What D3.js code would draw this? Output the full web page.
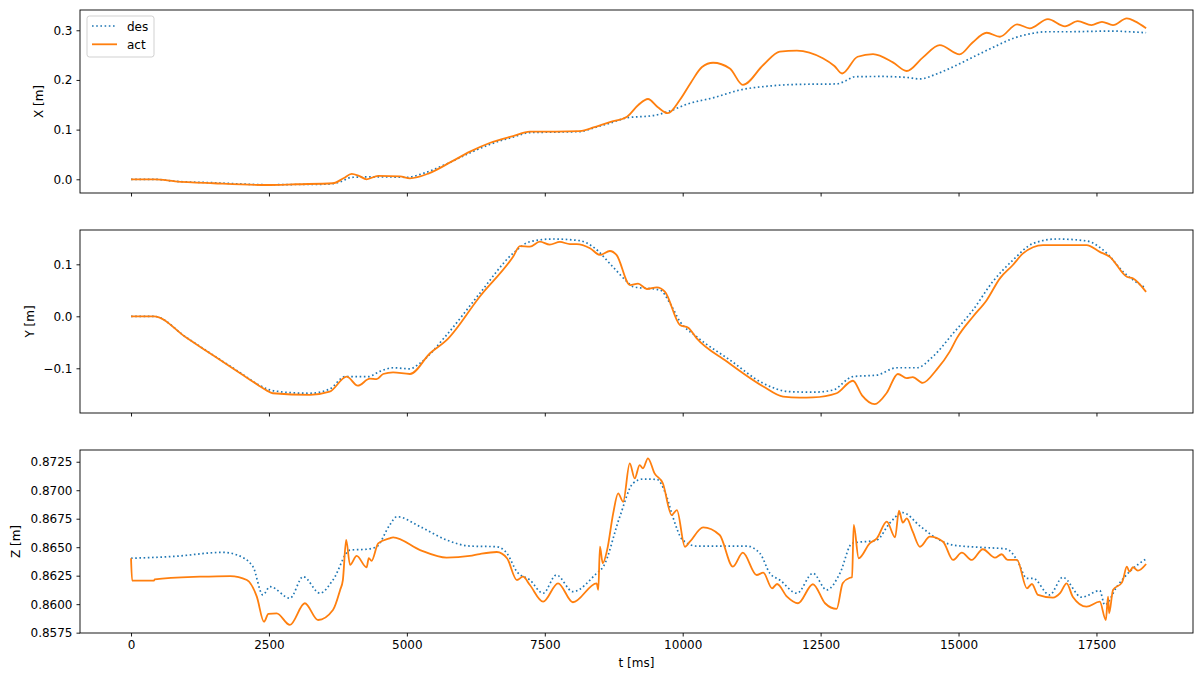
<!DOCTYPE html>
<html>
<head>
<meta charset="utf-8">
<script src="https://cdn.jsdelivr.net/npm/d3@7"></script>
<style>
  body { margin: 0; background: #fff; }
  text { font-family: "DejaVu Sans", sans-serif; fill: #000; }
</style>
</head>
<body>
<svg id="chart" width="1194" height="675"></svg>
<script>
// time ticks (ms)
var tTicks = [0, 2500, 5000, 7500, 10000, 12500, 15000, 17500];

// X position [m], pairs of [t, value]
var xDes = [[0,0],[430,0],[800,-0.004],[1500,-0.007],[2500,-0.011],[3000,-0.0105],[3500,-0.01],[3800,-0.005],[4000,0.004],[4500,0.005],[5000,0.004],[5300,0.012],[5700,0.03],[6140,0.053],[6500,0.07],[6925,0.085],[7230,0.094],[7700,0.095],[8137,0.096],[8400,0.104],[8680,0.113],[9000,0.124],[9450,0.128],[9730,0.136],[10100,0.152],[10550,0.164],[11090,0.181],[11500,0.187],[12070,0.191],[12790,0.192],[12950,0.198],[13120,0.2065],[13600,0.207],[14060,0.205],[14300,0.202],[14600,0.212],[14970,0.23],[15300,0.248],[15690,0.269],[16000,0.284],[16350,0.294],[16600,0.297],[17000,0.297],[17500,0.298],[17800,0.2984],[18100,0.297],[18400,0.295]];
var xAct = [[0,0],[430,0],[800,-0.004],[1500,-0.008],[2460,-0.0115],[3000,-0.01],[3660,-0.008],[3850,0.002],[4000,0.011],[4130,0.007],[4270,0],[4480,0.007],[4875,0.006],[5056,0.002],[5400,0.012],[5800,0.035],[6144,0.0556],[6500,0.073],[6925,0.087],[7230,0.096],[7700,0.096],[8137,0.097],[8400,0.105],[8680,0.115],[8990,0.126],[9200,0.15],[9370,0.1616],[9550,0.145],[9730,0.133],[9950,0.16],[10150,0.195],[10350,0.226],[10550,0.2346],[10855,0.223],[11090,0.19],[11460,0.23],[11760,0.257],[12070,0.259],[12540,0.2435],[12750,0.228],[12890,0.213],[13170,0.2467],[13450,0.252],[13810,0.2354],[14060,0.218],[14350,0.245],[14660,0.27],[15020,0.2515],[15250,0.275],[15510,0.295],[15750,0.287],[16060,0.312],[16290,0.304],[16620,0.3225],[16930,0.308],[17160,0.3185],[17410,0.3105],[17600,0.317],[17800,0.3105],[18050,0.324],[18200,0.318],[18400,0.304]];

// Y position [m]
var yDes = [[0,0],[415,0],[1000,-0.0405],[1500,-0.0755],[2000,-0.11],[2300,-0.131],[2500,-0.141],[2700,-0.145],[2900,-0.147],[3245,-0.148],[3600,-0.14],[3880,-0.116],[4300,-0.116],[4510,-0.106],[4750,-0.099],[5056,-0.101],[5240,-0.09],[5720,-0.036],[6320,0.044],[6925,0.121],[7230,0.1435],[7650,0.1487],[8137,0.1454],[8370,0.134],[8735,0.095],[8990,0.0666],[9100,0.057],[9590,0.0506],[9770,0.025],[9950,-0.01],[10250,-0.039],[10855,-0.084],[11460,-0.129],[11940,-0.145],[12360,-0.146],[12720,-0.142],[13085,-0.116],[13520,-0.113],[13880,-0.099],[14240,-0.099],[14530,-0.078],[14900,-0.033],[15260,0.012],[15620,0.0666],[15985,0.108],[16350,0.14],[16780,0.1487],[17320,0.145],[17690,0.121],[17980,0.086],[18400,0.054]];
var yAct = [[0,0],[415,0],[1000,-0.041],[1500,-0.076],[2000,-0.111],[2300,-0.132],[2450,-0.142],[2570,-0.148],[3245,-0.151],[3600,-0.145],[3910,-0.116],[4110,-0.1335],[4330,-0.12],[4450,-0.121],[4570,-0.111],[4750,-0.108],[5056,-0.111],[5420,-0.071],[5720,-0.046],[6320,0.0377],[6925,0.1146],[7050,0.135],[7230,0.134],[7410,0.1435],[7590,0.138],[7775,0.143],[7955,0.139],[8080,0.139],[8320,0.131],[8500,0.118],[8680,0.1256],[8800,0.118],[9045,0.06],[9190,0.063],[9350,0.0525],[9530,0.0558],[9680,0.047],[9950,-0.0167],[10100,-0.022],[10250,-0.042],[10800,-0.087],[11460,-0.135],[11820,-0.1546],[12120,-0.1565],[12360,-0.156],[12790,-0.148],[13085,-0.124],[13250,-0.152],[13480,-0.169],[13700,-0.147],[13900,-0.111],[14060,-0.119],[14170,-0.117],[14350,-0.128],[14600,-0.103],[14840,-0.068],[14970,-0.042],[15260,-0.0008],[15510,0.031],[15750,0.073],[15985,0.0987],[16170,0.121],[16530,0.137],[17320,0.137],[17560,0.124],[17740,0.1146],[18050,0.076],[18160,0.073],[18400,0.047]];

// Z position [m]
var zDes = [[0,0.86403],[800,0.8642],[1670,0.86455],[1920,0.86432],[2210,0.86329],[2390,0.86081],[2520,0.86154],[2880,0.86052],[3120,0.86241],[3425,0.86096],[3660,0.86212],[3970,0.86475],[4270,0.86482],[4450,0.86504],[4690,0.86695],[4820,0.86768],[5240,0.8668],[5720,0.86563],[6140,0.8651],[6630,0.86504],[6815,0.86446],[6995,0.86285],[7230,0.86212],[7470,0.86096],[7710,0.86256],[8010,0.8611],[8440,0.86271],[8560,0.86329],[8860,0.86768],[9100,0.87061],[9280,0.87098],[9530,0.87095],[9710,0.86943],[9820,0.86768],[10000,0.86563],[10250,0.8651],[11160,0.8651],[11400,0.86446],[11580,0.86271],[11760,0.86212],[12070,0.86096],[12360,0.86271],[12610,0.86125],[12850,0.86271],[13070,0.86534],[13520,0.86563],[13750,0.8671],[13990,0.86803],[14300,0.86686],[14600,0.86578],[14900,0.86519],[15390,0.86499],[15870,0.86484],[16060,0.86388],[16240,0.86227],[16350,0.86227],[16650,0.86081],[16890,0.86236],[17230,0.86061],[17560,0.86119],[17650,0.85993],[17870,0.86154],[18100,0.86285],[18400,0.86397]];
var zAct = [[0,0.86403],[20,0.86206],[415,0.86206],[430,0.86218],[1250,0.86241],[1800,0.86247],[2100,0.86212],[2280,0.86066],[2410,0.85846],[2490,0.85914],[2640,0.8592],[2880,0.85818],[3150,0.86008],[3390,0.85861],[3660,0.85949],[3790,0.86125],[3840,0.86212],[3900,0.86563],[3970,0.86344],[4090,0.86423],[4270,0.86324],[4310,0.86403],[4360,0.8638],[4480,0.86534],[4690,0.86578],[4750,0.86587],[5240,0.86475],[5720,0.86408],[6140,0.86423],[6320,0.8644],[6630,0.86458],[6815,0.86403],[6995,0.86212],[7105,0.86241],[7230,0.86168],[7470,0.86022],[7740,0.86183],[8010,0.86017],[8440,0.86183],[8470,0.86125],[8500,0.86504],[8550,0.86359],[8630,0.86475],[8740,0.86797],[8830,0.86973],[8920,0.86899],[9040,0.87236],[9130,0.87104],[9220,0.87221],[9280,0.87192],[9370,0.8728],[9490,0.87148],[9640,0.87061],[9800,0.86782],[9895,0.86826],[10040,0.86504],[10130,0.86548],[10370,0.86674],[10670,0.86607],[10910,0.86329],[11090,0.86452],[11340,0.86256],[11460,0.86276],[11620,0.86139],[11710,0.86177],[11890,0.86066],[12090,0.86008],[12360,0.86175],[12580,0.86008],[12790,0.85958],[12900,0.86183],[13030,0.86232],[13070,0.86236],[13100,0.86695],[13190,0.86403],[13390,0.86534],[13520,0.86578],[13700,0.86724],[13850,0.86587],[13920,0.8682],[13990,0.86715],[14060,0.86753],[14170,0.86636],[14300,0.86504],[14480,0.86592],[14720,0.86548],[14900,0.86388],[15060,0.86452],[15240,0.86388],[15440,0.86482],[15660,0.86408],[15780,0.86438],[15890,0.86388],[16060,0.86388],[16240,0.86139],[16330,0.86177],[16440,0.86081],[16710,0.86057],[16840,0.86096],[16960,0.86183],[17070,0.86066],[17320,0.85978],[17560,0.86022],[17670,0.85861],[17710,0.86066],[17730,0.8592],[17800,0.86125],[17960,0.86189],[17980,0.86212],[18050,0.86329],[18100,0.86285],[18160,0.86324],[18250,0.86294],[18400,0.86353]];

// axis limits and ticks
var xTicksY = [0, 0.1, 0.2, 0.3];
var yTicksY = [-0.1, 0, 0.1];
var zTicksY = [0.8575, 0.86, 0.8625, 0.865, 0.8675, 0.87, 0.8725];

var svg = d3.select('#chart');
var left = 80, right = 1193;
var blue = '#1f77b4', orange = '#ff7f0e';
var dots = '1.6,2.6';

var x = d3.scaleLinear().domain([-925, 19250]).range([left, right]);

var panels = [
  { des: xDes, act: xAct, lim: [-0.0276, 0.3408], ticks: xTicksY, fmt: d3.format('.1f'), label: 'X [m]', top: 10, bottom: 193, labelX: 43 },
  { des: yDes, act: yAct, lim: [-0.186, 0.166], ticks: yTicksY, fmt: d3.format('.1f'), label: 'Y [m]', top: 230, bottom: 413, labelX: 34 },
  { des: zDes, act: zAct, lim: [0.85747, 0.87353], ticks: zTicksY, fmt: d3.format('.4f'), label: 'Z [m]', top: 450, bottom: 633, labelX: 20 }
];

panels.forEach(function(p, i) {
  var y = d3.scaleLinear().domain(p.lim).range([p.bottom, p.top]);
  var g = svg.append('g');

  // clip so lines stay inside the axes
  svg.append('clipPath').attr('id', 'clip' + i)
    .append('rect')
    .attr('x', left).attr('y', p.top)
    .attr('width', right - left).attr('height', p.bottom - p.top);

  var line = d3.line()
    .x(function(d) { return x(d[0]); })
    .y(function(d) { return y(d[1]); })
    .curve(d3.curveMonotoneX);

  var plot = g.append('g').attr('clip-path', 'url(#clip' + i + ')');
  plot.append('path')
    .datum(p.des)
    .attr('d', line)
    .attr('fill', 'none')
    .attr('stroke', blue)
    .attr('stroke-width', 1.7)
    .attr('stroke-dasharray', dots);
  plot.append('path')
    .datum(p.act)
    .attr('d', line)
    .attr('fill', 'none')
    .attr('stroke', orange)
    .attr('stroke-width', 1.8);

  // y axis
  var yAxis = d3.axisLeft(y).tickValues(p.ticks).tickFormat(p.fmt).tickSize(3.5).tickPadding(4);
  var ya = g.append('g').attr('transform', 'translate(' + left + ',0)').call(yAxis);
  ya.select('.domain').remove();
  ya.selectAll('text').style('font-size', '12px').attr('fill', '#000');
  ya.selectAll('line').attr('stroke', '#000').attr('stroke-width', 0.9);

  // x axis, labels only on the bottom panel
  var xAxis = d3.axisBottom(x).tickValues(tTicks).tickFormat(i === 2 ? d3.format('d') : '').tickSize(3.5).tickPadding(4);
  var xa = g.append('g').attr('transform', 'translate(0,' + p.bottom + ')').call(xAxis);
  xa.select('.domain').remove();
  xa.selectAll('text').style('font-size', '12px').attr('fill', '#000');
  xa.selectAll('line').attr('stroke', '#000').attr('stroke-width', 0.9);

  // frame
  g.append('rect')
    .attr('x', left).attr('y', p.top)
    .attr('width', right - left).attr('height', p.bottom - p.top)
    .attr('fill', 'none').attr('stroke', '#000').attr('stroke-width', 0.9);

  // y label
  g.append('text')
    .attr('transform', 'translate(' + p.labelX + ',' + ((p.top + p.bottom) / 2) + ') rotate(-90)')
    .attr('text-anchor', 'middle')
    .style('font-size', '12px')
    .text(p.label);
});

// x label
svg.append('text')
  .attr('x', (left + right) / 2).attr('y', 667)
  .attr('text-anchor', 'middle')
  .style('font-size', '12px')
  .text('t [ms]');

// legend
var lg = svg.append('g');
lg.append('rect')
  .attr('x', 87).attr('y', 16).attr('width', 67).attr('height', 41)
  .attr('rx', 2.5).attr('ry', 2.5)
  .attr('fill', '#fff').attr('fill-opacity', 0.8)
  .attr('stroke', '#cccccc').attr('stroke-width', 0.9);
var items = [{ name: 'des', color: blue, dash: dots }, { name: 'act', color: orange, dash: null }];
items.forEach(function(it, k) {
  var yy = 26 + k * 18.3;
  lg.append('line')
    .attr('x1', 92).attr('x2', 117).attr('y1', yy).attr('y2', yy)
    .attr('stroke', it.color).attr('stroke-width', it.dash ? 1.7 : 1.8)
    .attr('stroke-dasharray', it.dash);
  lg.append('text')
    .attr('x', 127).attr('y', yy + 4.5)
    .style('font-size', '12px')
    .text(it.name);
});
</script>
</body>
</html>
